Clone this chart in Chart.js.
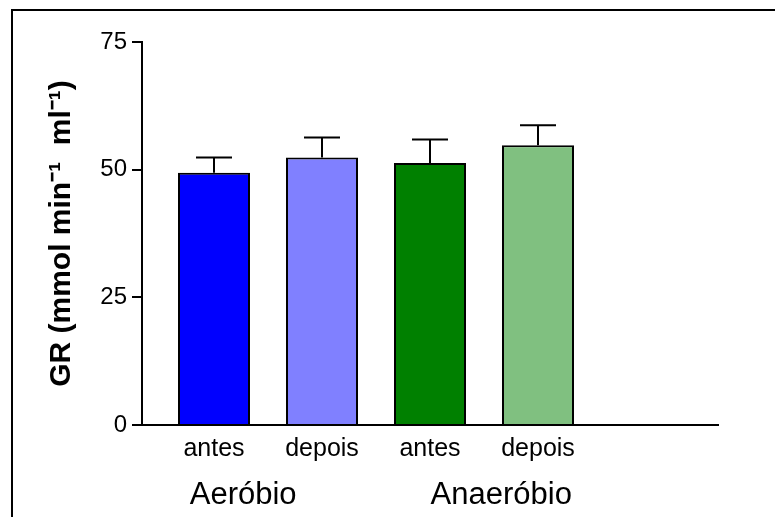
<!DOCTYPE html>
<html>
<head>
<meta charset="utf-8">
<script src="https://cdn.jsdelivr.net/npm/chart.js@4/dist/chart.umd.min.js"></script>
<style>
  html, body { margin: 0; padding: 0; background: #fff; }
  canvas { display: block; }
</style>
</head>
<body>
<canvas id="gr" width="775" height="517"></canvas>
<script>
// GR activity before/after training, aerobic vs anaerobic groups (mean + SEM)
const categories = ['antes', 'depois', 'antes', 'depois'];
const groups = ['Aeróbio', 'Anaeróbio'];
const meanGR = [49.4, 52.4, 51.3, 54.8];
const semGR = [3.0, 3.9, 4.6, 3.9];
const yTicks = [0, 25, 50, 75];
const barColors = ['#0000ff', '#8080ff', '#008000', '#80c080'];

const FONT = '"Liberation Sans", Arial, Helvetica, sans-serif';
const X_MIN = 1 / 3, X_MAX = 17 / 3;
const groupTickAt = [1.27, 3.66];

// upward-only error whiskers with a cap half as wide as the bar
const errorBars = {
  id: 'errorBars',
  afterDatasetsDraw(chart) {
    const { ctx } = chart;
    const y = chart.scales.y;
    const meta = chart.getDatasetMeta(0);
    ctx.save();
    ctx.strokeStyle = '#000';
    ctx.lineWidth = 2;
    meta.data.forEach((bar, i) => {
      const top = y.getPixelForValue(meanGR[i] + semGR[i]);
      const half = bar.width / 4;
      ctx.beginPath();
      ctx.moveTo(bar.x, bar.y);
      ctx.lineTo(bar.x, top);
      ctx.moveTo(bar.x - half, top);
      ctx.lineTo(bar.x + half, top);
      ctx.stroke();
    });
    ctx.restore();
  }
};

// white page with the figure frame
const frame = {
  id: 'frame',
  beforeDraw(chart) {
    const { ctx, width, height } = chart;
    ctx.save();
    ctx.fillStyle = '#fff';
    ctx.fillRect(0, 0, width, height);
    ctx.strokeStyle = '#000';
    ctx.lineWidth = 2;
    ctx.strokeRect(12, 10, width + 20, height + 20);
    ctx.restore();
  }
};

new Chart(document.getElementById('gr'), {
  type: 'bar',
  data: {
    datasets: [{
      data: meanGR.map((v, i) => ({ x: i + 1, y: v })),
      backgroundColor: barColors,
      borderColor: '#000',
      borderWidth: 2,
      borderSkipped: 'bottom',
      barPercentage: 2 / 3,
      categoryPercentage: 1
    }]
  },
  options: {
    responsive: false,
    animation: false,
    devicePixelRatio: 1,
    layout: { padding: { left: 0, top: 42, right: 57, bottom: 0 } },
    plugins: { legend: { display: false }, tooltip: { enabled: false } },
    scales: {
      x: {
        type: 'linear',
        position: 'bottom',
        weight: 0,
        min: X_MIN,
        max: X_MAX,
        offset: false,
        grid: { display: false, drawTicks: false },
        border: { display: true, color: '#000', width: 2 },
        afterBuildTicks: s => { s.ticks = categories.map((_, i) => ({ value: i + 1 })); },
        ticks: {
          callback: (v, i) => categories[i],
          color: '#000',
          font: { family: FONT, size: 25 },
          padding: 9,
          maxRotation: 0,
          autoSkip: false
        },
        afterFit: s => { s.height = 40; }
      },
      x2: {
        type: 'linear',
        position: 'bottom',
        weight: 1,
        min: X_MIN,
        max: X_MAX,
        offset: false,
        grid: { display: false, drawTicks: false },
        border: { display: false },
        afterBuildTicks: s => { s.ticks = groupTickAt.map(v => ({ value: v })); },
        ticks: {
          callback: (v, i) => groups[i],
          color: '#000',
          font: { family: FONT, size: 31 },
          padding: 12,
          maxRotation: 0,
          autoSkip: false
        },
        afterFit: s => { s.height = 52; }
      },
      y: {
        min: 0,
        max: 75,
        afterBuildTicks: s => { s.ticks = yTicks.map(v => ({ value: v })); },
        grid: { drawOnChartArea: false, drawTicks: true, tickLength: 10, color: '#000', lineWidth: 2 },
        border: { display: true, color: '#000', width: 2 },
        ticks: { color: '#000', font: { family: FONT, size: 24 }, padding: 5 },
        title: {
          display: true,
          text: 'GR (mmol min⁻¹  ml⁻¹)',
          color: '#000',
          font: { family: FONT, size: 30, weight: 'bold' },
          padding: { top: 44, bottom: 0 }
        },
        afterFit: s => { s.width = 142; }
      }
    }
  },
  plugins: [frame, errorBars]
});
</script>
</body>
</html>
